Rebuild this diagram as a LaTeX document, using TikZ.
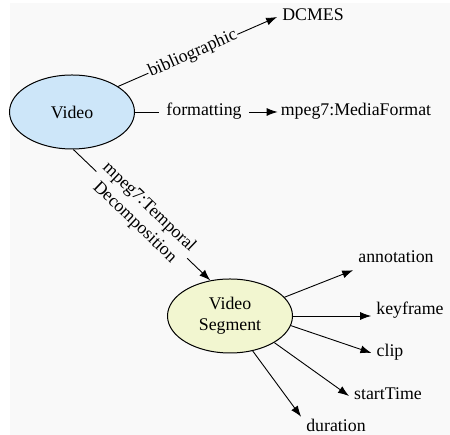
\documentclass[tikz,border=0pt]{standalone}
\usepackage{fontspec}
\setmainfont{Liberation Serif}
\usepackage{tikz}
\usetikzlibrary{arrows.meta, shapes.geometric, positioning}
\definecolor{videoblue}{RGB}{205,230,249}
\definecolor{segyellow}{RGB}{242,246,208}
\definecolor{paper}{RGB}{249,249,249}
\newcommand{\videocolor}{videoblue}
\newcommand{\segcolor}{segyellow}
\newcommand{\bgcolor}{paper}

\begin{document}
\begin{tikzpicture}[
      % GLOBAL CFG
      x=1pt, y=1pt,
      font=\fontsize{17.8}{21}\selectfont,
      >={Latex[length=11pt,width=8pt]},
      % Styles
      res/.style={% For resources
        ellipse,
        draw,
        line width=1pt,
        inner sep=0pt,
        minimum width=125pt,
        minimum height=74pt,
        align=center
      },
      lit/.style={% For property values
        inner xsep=5pt,
        inner ysep=3pt,
        text height=12pt,
        text depth=4pt
      },
      prop/.style={% For property labels
        fill=\bgcolor,
        inner sep=1pt,
        sloped
      },
      arrowprop/.style={% Arrows for properties
        line width=0.9pt,
        ->
      }
      ]

      % Paper
      \useasboundingbox (0,0) rectangle (450,435);
      \fill [\bgcolor] (10,0) rectangle (450,432);

      % Resources
      \node [res, fill=\videocolor] (video) at (72,323){Video} ;
      \node [res, fill=\segcolor] (segment) at (230,119){Video\\Segment} ;

      % Values
      \node [lit] (dcmes) at (313,418){DCMES} ;
      \node [lit, inner xsep=7pt] (formatting) at (204,323){formatting} ;
      \node [lit, inner xsep=3pt] (mediaformat) at (356,323){mpeg7:MediaFormat} ;
      \node [lit] (annotation) at (396,176){annotation} ;
      \node [lit] (keyframe) at (410,124){keyframe} ;
      \node [lit] (clip) at (390,82){clip} ;
      \node [lit] (starttime) at (388,39){startTime} ;
      \node [lit] (duration) at (336,7){duration} ;

      % Video properties
      \draw [arrowprop] (video.29) -- node[prop, pos=0.47]{bibliographic} (dcmes.west);
      \draw [line width=0.9pt] (video.east) -- (formatting.west);
      \draw [arrowprop] (formatting.east) -- (mediaformat.west);
      \draw [arrowprop] (video.-88) -- node[prop, align=center, inner sep=2pt]{mpeg7:Temporal\\Decomposition} (segment.119);

      % Segment properties
      \draw [arrowprop] (segment.19) -- (annotation.south west);
      \draw [arrowprop] (segment.east) -- (segment.east -| keyframe.west);
      \draw [arrowprop] (segment.-9.5) -- (clip.west);
      \draw [arrowprop] (segment.-31) -- (starttime.west);
      \draw [arrowprop] (segment.-57) -- (duration.north west);
    \end{tikzpicture}
\end{document}
